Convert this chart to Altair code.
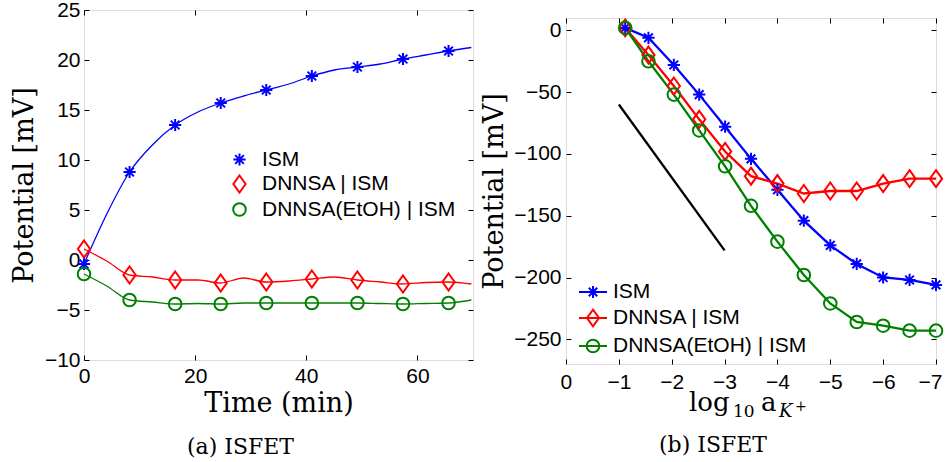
import altair as alt
import pandas as pd

SANS = "Liberation Sans"
SERIF = "DejaVu Serif"

series = ["ISM", "DNNSA | ISM", "DNNSA(EtOH) | ISM"]
series_colors = ["#0000ff", "#ff0000", "#008000"]

# (a) potential drift over time, sampled every ~4.1 min (every second sample is marked)
time_min = [0, 4.1, 8.2, 12.3, 16.4, 20.5, 24.6, 28.7, 32.8, 36.9, 41.0, 45.1,
            49.2, 53.3, 57.4, 61.5, 65.6, 69.7]
ism_time = [-0.4, 4.6, 8.8, 11.5, 13.5, 14.8, 15.7, 16.4, 17.0, 17.6, 18.4, 19.0,
            19.3, 19.6, 20.1, 20.5, 20.9, 21.25]
dnnsa_time = [1.1, -0.1, -1.5, -1.7, -2.0, -2.0, -2.3, -1.8, -2.2, -2.1, -1.9, -1.7,
              -2.0, -2.2, -2.4, -2.25, -2.2, -2.4]
etoh_time = [-1.4, -2.6, -4.0, -4.2, -4.4, -4.35, -4.4, -4.3, -4.3, -4.3, -4.3, -4.3,
             -4.3, -4.35, -4.4, -4.35, -4.3, -4.0]

# (b) potential versus log10 of K+ activity
log_a = [-1.12, -1.56, -2.04, -2.52, -3.01, -3.5, -4.0, -4.5, -5.0, -5.5, -6.0, -6.5, -7.0]
ism_conc = [2, -6, -28, -52, -78, -104, -129, -154, -174, -189, -200, -202, -206]
dnnsa_conc = [2, -20, -45, -72, -98, -118, -124, -132, -130, -130, -124, -120, -120]
etoh_conc = [2, -25, -52, -81, -110, -142, -171, -198, -221, -236, -239, -243, -243]

# ideal Nernstian slope guide
nernst_x = [-1, -3]
nernst_y = [-60, -178]

# marker outlines as custom symbol paths
STAR = "M-0.72,0L0.72,0M0,-0.72L0,0.72M-0.51,-0.51L0.51,0.51M-0.51,0.51L0.51,-0.51"
DIAMOND = "M0,-1L0.72,0L0,1L-0.72,0Z"
CIRCLE = "M0.74,0A0.74 0.74 0 1 1 -0.74,0A0.74 0.74 0 1 1 0.74,0Z"
# legend keys: line sample with the marker on it
STAR_KEY = ("M-1,0L1,0M-0.43,0L0.43,0M0,-0.43L0,0.43"
            "M-0.3,-0.3L0.3,0.3M-0.3,0.3L0.3,-0.3")
DIAMOND_KEY = "M-1,0L1,0M0,-0.6L0.43,0L0,0.6L-0.43,0Z"
CIRCLE_KEY = "M-1,0L1,0M0.45,0A0.45 0.45 0 1 1 -0.45,0A0.45 0.45 0 1 1 0.45,0Z"

W_A, H_A = 389, 350
W_B, H_B = 370, 346


def long_frame(x, cols):
    rows = []
    for name, vals in zip(series, cols):
        for i, (xv, yv) in enumerate(zip(x, vals)):
            rows.append({"x": xv, "y": yv, "series": name, "order": i})
    return pd.DataFrame(rows)


df_a = long_frame(time_min, [ism_time, dnnsa_time, etoh_time])
df_b = long_frame(log_a, [ism_conc, dnnsa_conc, etoh_conc])
df_nernst = pd.DataFrame({"x": nernst_x, "y": nernst_y})

color_scale = alt.Scale(domain=series, range=series_colors)
shape_scale = alt.Scale(domain=series, range=[STAR, DIAMOND, CIRCLE])
key_scale = alt.Scale(domain=series, range=[STAR_KEY, DIAMOND_KEY, CIRCLE_KEY])


def frame_axis(values, title, span, pad, flush, flush_offset=0, title_pad=4):
    kw = dict(
        values=values, format="d", grid=True, gridDash=[5, span - 10],
        gridColor="black", gridWidth=1, gridOpacity=1, ticks=False, tickSize=0,
        domain=False, labelFont=SANS, labelFontSize=21, labelColor="black",
        labelPadding=pad, labelFlush=flush, labelOverlap=False,
        titleFont=SERIF, titleFontSize=27, titleFontWeight="normal",
        titleColor="black", titlePadding=title_pad, title=title or "",
    )
    if flush:
        kw["labelFlushOffset"] = flush_offset
    return alt.Axis(**kw)


def caption(text, offset):
    return alt.TitleParams(text, orient="bottom", font=SERIF, fontSize=22,
                           fontWeight="normal", color="black", anchor="middle",
                           offset=offset, dx=-38)


# ---------------- panel (a) ----------------
xa = alt.X("x:Q", scale=alt.Scale(domain=[0, 70], nice=False, zero=False),
           axis=frame_axis([0, 20, 40, 60], "Time (min)", H_A, 5, False))
ya = alt.Y("y:Q", scale=alt.Scale(domain=[-10, 25], nice=False, zero=False),
           axis=frame_axis(list(range(-10, 26, 5)), "Potential [mV]", W_A, 4, False,
                           title_pad=6))

lines_a = alt.Chart(df_a).mark_line(interpolate="monotone", strokeWidth=1.3).encode(
    x=xa, y=ya, order="order:Q",
    color=alt.Color("series:N", scale=color_scale, legend=None),
)

legend_a = alt.Legend(
    title=None, orient="none", legendX=145, legendY=139, padding=0,
    labelFont=SANS, labelFontSize=21, labelColor="black", labelOffset=12,
    labelLimit=400, symbolStrokeWidth=2, symbolSize=289, rowPadding=1.5,
    symbolFillColor="transparent",
)
points_a = alt.Chart(df_a).transform_filter("datum.order % 2 == 0").mark_point(
    filled=False, strokeWidth=2, size=289, opacity=1
).encode(
    x=xa, y=ya,
    color=alt.Color("series:N", scale=color_scale, legend=legend_a),
    shape=alt.Shape("series:N", scale=shape_scale, legend=legend_a),
)

panel_a = alt.layer(lines_a, points_a).resolve_scale(
    color="independent", shape="independent"
).properties(width=W_A, height=H_A, title=caption("(a) ISFET", 21))

# ---------------- panel (b) ----------------
xb = alt.X("x:Q", scale=alt.Scale(domain=[0, -7], nice=False, zero=False),
           axis=frame_axis(list(range(0, -8, -1)), None, H_B, 7, True, flush_offset=6))
yb = alt.Y("y:Q", scale=alt.Scale(domain=[-270, 10], nice=False, zero=False),
           axis=frame_axis(list(range(-250, 1, 50)), "Potential [mV]", W_B, 5, False,
                           title_pad=5))

lines_b = alt.Chart(df_b).mark_line(strokeWidth=2.3).encode(
    x=xb, y=yb, order="order:Q",
    color=alt.Color("series:N", scale=color_scale, legend=None),
)
points_b = alt.Chart(df_b).mark_point(filled=False, strokeWidth=2, size=289, opacity=1).encode(
    x=xb, y=yb,
    color=alt.Color("series:N", scale=color_scale, legend=None),
    shape=alt.Shape("series:N", scale=shape_scale, legend=None),
)
legend_b = alt.Legend(
    title=None, orient="none", legendX=12, legendY=259, padding=0,
    labelFont=SANS, labelFontSize=21, labelColor="black", labelOffset=5,
    labelLimit=400, symbolStrokeWidth=2, symbolSize=784, rowPadding=0,
    symbolFillColor="transparent",
)
keys_b = alt.Chart(df_b).transform_filter("false").mark_point(
    filled=False, strokeWidth=2, size=784, opacity=1
).encode(
    x=xb, y=yb,
    color=alt.Color("series:N", scale=color_scale, legend=legend_b),
    shape=alt.Shape("series:N", scale=key_scale, legend=legend_b),
)
nernst = alt.Chart(df_nernst).mark_line(color="black", strokeWidth=2.3).encode(x=xb, y=yb)

# x-axis title log10 a_{K+} assembled from pieces
one = pd.DataFrame({"k": [0]})


def piece(text, x, y, size, style="normal"):
    return alt.Chart(one).mark_text(
        text=text, font=SERIF, fontSize=size, fontStyle=style, color="black",
        align="left", baseline="alphabetic",
    ).encode(x=alt.value(x), y=alt.value(y))


xtitle_b = [
    piece("log", 123, H_B + 47, 26),
    piece("10", 167, H_B + 53, 17),
    piece("a", 195, H_B + 47, 26),
    piece("K", 213, H_B + 53, 18, "italic"),
    piece("+", 229, H_B + 47, 14),
]

panel_b = alt.layer(nernst, lines_b, points_b, keys_b, *xtitle_b).resolve_scale(
    color="independent", shape="independent"
).properties(width=W_B, height=H_B, title=caption("(b) ISFET", 14))

# thin blank strip that sets panel (b) slightly lower than panel (a)
spacer = alt.Chart(one).mark_point(opacity=0, size=1).encode(
    x=alt.value(2), y=alt.value(1)
).properties(width=W_B, height=3, view=alt.ViewBackground(stroke="transparent"))

right = alt.vconcat(spacer, panel_b, spacing=0)

chart = alt.hconcat(panel_a, right, spacing=5).properties(
    padding={"left": 9, "top": -2, "right": 0, "bottom": 0}
).configure_view(stroke="black", strokeWidth=1.2).configure(background="white")

chart.save("out.html", embed_options={"renderer": "svg", "actions": False})
